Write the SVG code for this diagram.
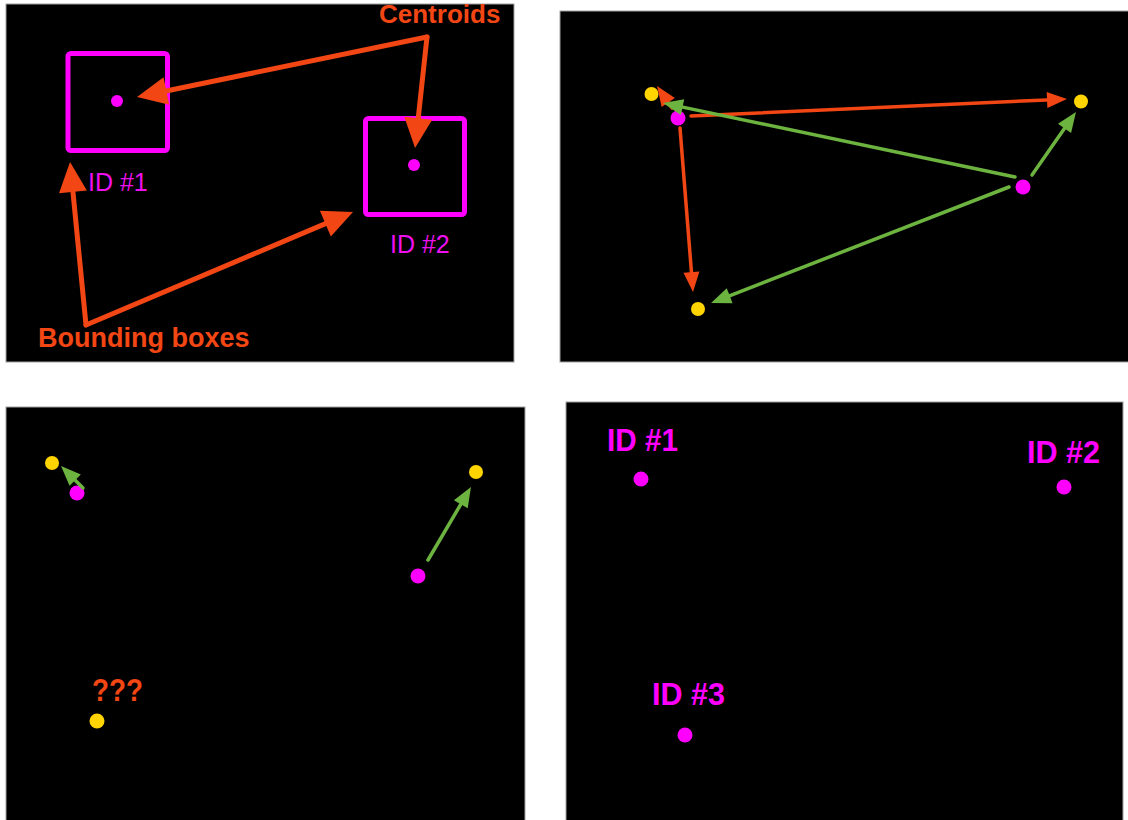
<svg xmlns="http://www.w3.org/2000/svg" width="1128" height="820" viewBox="0 0 1128 820">
<style>
.panel{fill:#000;stroke:#a0a0a0;stroke-width:1}
.box{fill:none;stroke:#ff00ff;stroke-width:5}
.mag{fill:#ff00ff}
.yel{fill:#ffd400}
.red5{fill:none;stroke:#f24614;stroke-width:5;stroke-linecap:round}
.red3{fill:none;stroke:#f24614;stroke-width:3.5;stroke-linecap:round}
.grn3{fill:none;stroke:#6cb43f;stroke-width:3.5;stroke-linecap:round}
.lblO{font-family:"Liberation Sans",Arial,sans-serif;font-weight:bold;fill:#f24614}
.lblM{font-family:"Liberation Sans",Arial,sans-serif;fill:#ee10ee}
.lblMB{font-family:"Liberation Sans",Arial,sans-serif;font-weight:bold;fill:#ff00ff}
</style>
<defs>
<marker id="hRedBig" markerUnits="userSpaceOnUse" markerWidth="30" markerHeight="28" refX="20" refY="14" orient="auto" overflow="visible"><path d="M0,0 L30,14 L0,28 Z" fill="#f24614"/></marker>
<marker id="hRed" markerUnits="userSpaceOnUse" markerWidth="20" markerHeight="16" refX="12" refY="8" orient="auto" overflow="visible"><path d="M0,0 L20,8 L0,16 Z" fill="#f24614"/></marker>
<marker id="hGrn" markerUnits="userSpaceOnUse" markerWidth="20" markerHeight="16" refX="12" refY="8" orient="auto" overflow="visible"><path d="M0,0 L20,8 L0,16 Z" fill="#6cb43f"/></marker>
</defs>
<rect width="1128" height="820" fill="#fff"/>

<!-- Panel 1 -->
<g id="panel1">
<rect class="panel" x="6" y="4" width="508" height="358"/>
<g id="box1"><rect class="box" x="68" y="53.5" width="99.5" height="97" rx="3"/><circle class="mag" cx="117" cy="101" r="6"/><text class="lblM" x="88" y="190.5" font-size="25">ID #1</text></g>
<g id="box2"><rect class="box" x="365.5" y="118.5" width="99" height="96" rx="3"/><circle class="mag" cx="414" cy="165" r="6"/><text class="lblM" x="390" y="253" font-size="25">ID #2</text></g>
<g id="label-centroids"><text class="lblO" x="379" y="23" font-size="26">Centroids</text></g>
<g id="label-bboxes"><text class="lblO" x="38" y="347" font-size="27">Bounding boxes</text></g>
</g>

<!-- Panel 2 -->
<g id="panel2">
<rect class="panel" x="560" y="11" width="570" height="351"/>
<g id="p2-y1"><circle class="yel" cx="651.5" cy="94" r="7"/></g>
<g id="p2-m1"><circle class="mag" cx="678" cy="118" r="7.5"/></g>
<g id="p2-y2"><circle class="yel" cx="1081" cy="101.5" r="7"/></g>
<g id="p2-m2"><circle class="mag" cx="1023" cy="187" r="7.5"/></g>
<g id="p2-y3"><circle class="yel" cx="698" cy="309" r="7"/></g>
</g>

<!-- Panel 3 -->
<g id="panel3">
<rect class="panel" x="6" y="407" width="519" height="420"/>
<g id="p3-y1"><circle class="yel" cx="52" cy="463" r="7"/></g>
<g id="p3-m1"><circle class="mag" cx="77" cy="493" r="7.5"/></g>
<g id="p3-y2"><circle class="yel" cx="476" cy="472" r="7"/></g>
<g id="p3-m2"><circle class="mag" cx="418" cy="576" r="7.5"/></g>
<g id="p3-y3"><circle class="yel" cx="97" cy="721" r="7.5"/><text class="lblO" x="92" y="701" font-size="31" textLength="51" lengthAdjust="spacingAndGlyphs">???</text></g>
</g>

<!-- Panel 4 -->
<g id="panel4">
<rect class="panel" x="566" y="402" width="557" height="425"/>
<g id="p4-id1"><circle class="mag" cx="641" cy="479" r="7.5"/><text class="lblMB" x="607" y="451" font-size="31" textLength="71" lengthAdjust="spacingAndGlyphs">ID #1</text></g>
<g id="p4-id2"><circle class="mag" cx="1064" cy="487" r="7.5"/><text class="lblMB" x="1027" y="463" font-size="31" textLength="73" lengthAdjust="spacingAndGlyphs">ID #2</text></g>
<g id="p4-id3"><circle class="mag" cx="685" cy="735" r="7.5"/><text class="lblMB" x="652" y="705" font-size="31" textLength="73" lengthAdjust="spacingAndGlyphs">ID #3</text></g>
</g>

<!-- Connectors -->
<g id="connectors">
<path class="red5" d="M427,37 L146.8,95" marker-end="url(#hRedBig)"/>
<path class="red5" d="M427,37 L416.1,138.1" marker-end="url(#hRedBig)"/>
<path class="red5" d="M86,325 L71,172" marker-end="url(#hRedBig)"/>
<path class="red5" d="M86,325 L343.8,215.9" marker-end="url(#hRedBig)"/>

<path class="red3" d="M691,116 L1059,99.4" marker-end="url(#hRed)"/>
<path class="red3" d="M672,108 L661.5,92.6" marker-end="url(#hRed)"/>
<path class="red3" d="M680,128 L692.4,284" marker-end="url(#hRed)"/>
<path class="grn3" d="M1015,177 L670.8,104.6" marker-end="url(#hGrn)"/>
<path class="grn3" d="M1032,175 L1071.4,118.6" marker-end="url(#hGrn)"/>
<path class="grn3" d="M1009,187 L718.5,300.1" marker-end="url(#hGrn)"/>

<path class="grn3" d="M83,488 L66.7,471.7" marker-end="url(#hGrn)"/>
<path class="grn3" d="M428,560 L466.9,493.9" marker-end="url(#hGrn)"/>
</g>
</svg>
